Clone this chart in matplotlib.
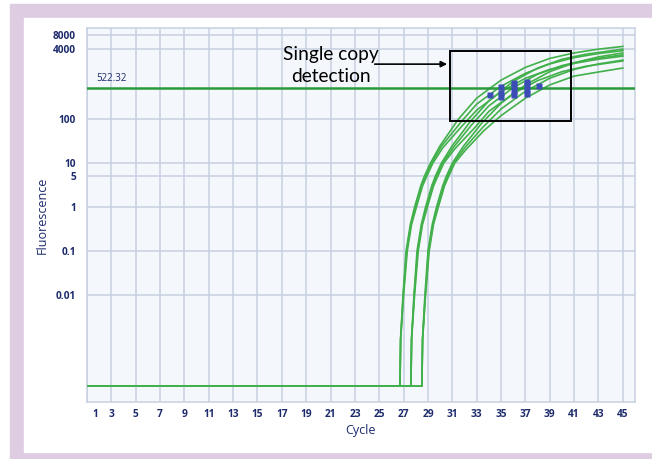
import matplotlib.pyplot as plt
import matplotlib.transforms as mtransforms
from matplotlib.patches import Rectangle

# amplification curves, cycle vs fluorescence (log scale)
base = 8.5e-5

cycles_a1 = [1, 26.7, 26.75, 26.95, 27.2, 27.55, 27.9, 28.4, 28.7, 29.2, 30.0, 31.5, 33, 35, 37, 39, 41, 43, 45]
fluor_a1 = [base, base, 1e-3, 0.01, 0.1, 0.4, 1, 3, 5, 10, 25, 100, 300, 770, 1500, 2400, 3200, 3900, 4500]
cycles_a2 = [1, 26.7, 26.75, 26.97, 27.25, 27.6, 28.0, 28.5, 28.8, 29.3, 30.1, 31.7, 33, 35, 37, 39, 41, 43, 45]
fluor_a2 = [base, base, 1e-3, 0.01, 0.1, 0.4, 1, 3, 5, 10, 24, 85, 220, 560, 1100, 1800, 2500, 3100, 3600]
cycles_a3 = [1, 26.7, 26.76, 27.0, 27.3, 27.65, 28.05, 28.55, 28.9, 29.4, 30.2, 31.8, 33, 35, 37, 39, 41, 43, 45]
fluor_a3 = [base, base, 1e-3, 0.01, 0.1, 0.4, 1, 3, 5, 10, 22, 70, 160, 420, 850, 1350, 1850, 2300, 2700]

cycles_b1 = [1, 27.6, 27.65, 27.85, 28.1, 28.45, 28.8, 29.3, 29.6, 30.1, 31.0, 32.5, 34, 36, 38, 40, 42, 45]
fluor_b1 = [base, base, 1e-3, 0.01, 0.1, 0.4, 1, 3, 5, 10, 25, 90, 260, 720, 1450, 2300, 3000, 3900]
cycles_b2 = [1, 27.6, 27.65, 27.87, 28.15, 28.5, 28.9, 29.4, 29.7, 30.2, 31.1, 32.6, 34, 36, 38, 40, 42, 45]
fluor_b2 = [base, base, 1e-3, 0.01, 0.1, 0.4, 1, 3, 5, 10, 23, 75, 200, 520, 1050, 1650, 2200, 2900]
cycles_b3 = [1, 27.6, 27.66, 27.9, 28.2, 28.55, 28.95, 29.45, 29.8, 30.3, 31.2, 32.8, 34, 36, 38, 40, 42, 45]
fluor_b3 = [base, base, 1e-3, 0.01, 0.1, 0.4, 1, 3, 5, 10, 21, 62, 150, 380, 750, 1200, 1600, 2100]

cycles_c1 = [1, 28.5, 28.55, 28.75, 29.0, 29.35, 29.7, 30.2, 30.5, 31.0, 31.9, 33.4, 35, 37, 39, 41, 43, 45]
fluor_c1 = [base, base, 1e-3, 0.01, 0.1, 0.4, 1, 3, 5, 10, 24, 80, 230, 600, 1200, 1900, 2600, 3200]
cycles_c2 = [1, 28.5, 28.56, 28.78, 29.05, 29.4, 29.8, 30.3, 30.6, 31.1, 32.0, 33.5, 35, 37, 39, 41, 43, 45]
fluor_c2 = [base, base, 1e-3, 0.01, 0.1, 0.4, 1, 3, 5, 10, 22, 65, 170, 430, 850, 1350, 1800, 2200]
cycles_c3 = [1, 28.5, 28.56, 28.8, 29.1, 29.45, 29.85, 30.35, 30.7, 31.2, 32.1, 33.6, 35, 37, 39, 41, 43, 45]
fluor_c3 = [base, base, 1e-3, 0.01, 0.1, 0.4, 1, 3, 5, 10, 20, 55, 120, 300, 600, 950, 1180, 1450]

curves = [
    (cycles_a1, fluor_a1), (cycles_a2, fluor_a2), (cycles_a3, fluor_a3),
    (cycles_b1, fluor_b1), (cycles_b2, fluor_b2), (cycles_b3, fluor_b3),
    (cycles_c1, fluor_c1), (cycles_c2, fluor_c2), (cycles_c3, fluor_c3),
]

threshold = 522.32

# Ct marks near the threshold
ct_cycles = [34.1, 35.0, 35.0, 35.0, 36.1, 36.1, 36.1, 36.1, 37.1, 37.1, 37.1, 37.1, 38.1]
ct_values = [351, 534, 390, 316, 658, 562, 433, 351, 693, 593, 456, 370, 562]

x_ticks = list(range(1, 46, 2))
y_ticks = [0.01, 0.1, 1, 5, 10, 100, 4000, 8000]
y_labels = ["0.01", "0.1", "1", "5", "10", "100", "4000", "8000"]

navy = "#1c2a6b"
grid_col = "#c7d0e1"
green = "#42b04b"

fig = plt.figure(figsize=(6.52, 4.59), dpi=100)

# lilac frame
fig.patches.append(Rectangle((10 / 652, 0), 642 / 652, 455 / 459,
                             transform=fig.transFigure, color="#ddcce2", zorder=-2))
fig.patches.append(Rectangle((24 / 652, 7 / 459), 628 / 652, 434 / 459,
                             transform=fig.transFigure, color="white", zorder=-1))

ax = fig.add_axes([87 / 652, 57 / 459, 548 / 652, 374 / 459])
ax.set_facecolor("#f4f7fb")
ax.set_yscale("log")
ax.set_xlim(1, 46)
ax.set_ylim(3.7e-5, 1.18e4)

ax.set_xticks(x_ticks)
ax.set_xticklabels([str(t) for t in x_ticks])
ax.set_yticks(y_ticks)
ax.set_yticklabels(y_labels)
ax.minorticks_off()
ax.tick_params(length=0, labelsize=7.3, labelcolor=navy)
ax.tick_params(axis="x", pad=5)
ax.tick_params(axis="y", pad=8)
for lab in ax.get_xticklabels() + ax.get_yticklabels():
    lab.set_fontweight("bold")
    lab.set_family("Open Sans")
# first cycle label sits a bit right of the axis edge
first = ax.get_xticklabels()[0]
first.set_transform(first.get_transform() + mtransforms.ScaledTranslation(8 / 100, 0, fig.dpi_scale_trans))

ax.grid(True, color=grid_col, lw=1.1)
ax.set_axisbelow(True)
for s in ax.spines.values():
    s.set_color(grid_col)
    s.set_linewidth(1.1)

for cyc, fl in curves:
    ax.plot(cyc, fl, color=green, lw=1.2, zorder=3)

ax.axhline(threshold, color="#2a9a3a", lw=1.8, zorder=4)
ax.text(1.8, 620, "522.32", fontsize=7, color=navy, family="Open Sans", va="bottom")

ax.plot(ct_cycles, ct_values, "s", ms=3.8, color="#3d4db7", mec="none", zorder=5)

# highlight box and annotation
ax.add_patch(Rectangle((30.8, 90), 40.75 - 30.8, 3510 - 90, fill=False, ec="black", lw=1.4, zorder=6))
ax.annotate("", xy=(30.8, 1780), xytext=(24.4, 1780),
            arrowprops=dict(arrowstyle="-|>", color="black", lw=1.2, mutation_scale=9),
            zorder=6)
ax.text(21.0, 1650, "Single copy\ndetection", fontsize=13.8, family="Lato", ha="center", va="center",
        linespacing=1.35, color="black", zorder=6)

ax.set_xlabel("Cycle", fontsize=9, color=navy, family="Open Sans", labelpad=3)
ax.set_ylabel("Fluorescence", fontsize=9, color=navy, family="Open Sans", labelpad=3)

plt.savefig("out.png", dpi=100)
